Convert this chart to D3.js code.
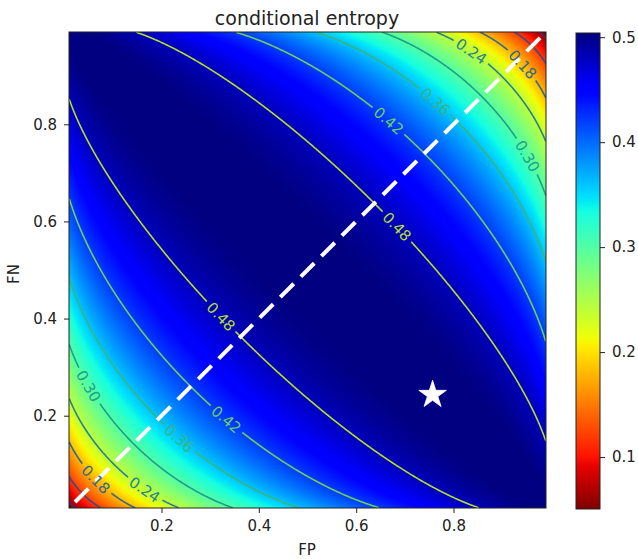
<!DOCTYPE html>
<html>
<head>
<meta charset="utf-8">
<script src="https://cdn.jsdelivr.net/npm/d3@7"></script>
<style>
  body { margin: 0; background: #fff; }
  text { font-family: "DejaVu Sans", sans-serif; }
</style>
</head>
<body>
<svg id="chart" width="638" height="559"></svg>
<script>
// ---- values ----
var fpRange = [0.01, 0.99];          // FP axis extent
var fnRange = [0.01, 0.99];          // FN axis extent
var prior = 0.5;                     // P(y = 1)
var entropyMax = 0.508;              // H(Y), the top of the field
var levels = [0.06, 0.12, 0.18, 0.24, 0.30, 0.36, 0.42, 0.48];
var levelColorMax = 0.54;            // contour colour norm upper end
var labelLevels = [0.18, 0.18, 0.24, 0.24, 0.30, 0.30, 0.36, 0.36, 0.42, 0.42, 0.48, 0.48];
var labelFP = [0.057, 0.949, 0.162, 0.840, 0.049, 0.959, 0.234, 0.768, 0.331, 0.670, 0.326, 0.682];
var labelFN = [0.061, 0.930, 0.043, 0.955, 0.261, 0.739, 0.152, 0.854, 0.189, 0.811, 0.409, 0.587];
var xTicks = [0.2, 0.4, 0.6, 0.8];
var yTicks = [0.2, 0.4, 0.6, 0.8];
var cbarTicks = [0.1, 0.2, 0.3, 0.4, 0.5];
var cbarRange = [0.0505, 0.504];
var starFP = [0.757];
var starFN = [0.243];
var diagFP = [0.01, 0.99];
var diagFN = [0.01, 0.99];

var svg = d3.select('#chart');
var pLeft = 69, pTop = 32, pRight = 546, pBottom = 508;

var x = d3.scaleLinear().domain(fpRange).range([pLeft, pRight]);
var y = d3.scaleLinear().domain(fnRange).range([pBottom, pTop]);

// jet colormap, reversed
function seg(pts, t) {
  for (var k = 1; k < pts.length; k++) {
    if (t <= pts[k][0]) {
      var a = pts[k - 1], b = pts[k];
      return a[1] + (b[1] - a[1]) * (t - a[0]) / (b[0] - a[0]);
    }
  }
  return pts[pts.length - 1][1];
}
var jetR = [[0, 0], [0.35, 0], [0.66, 1], [0.89, 1], [1, 0.5]];
var jetG = [[0, 0], [0.125, 0], [0.375, 1], [0.64, 1], [0.91, 0], [1, 0]];
var jetB = [[0, 0.5], [0.11, 1], [0.34, 1], [0.65, 0], [1, 0]];
function jetReversed(t) {
  t = 1 - Math.max(0, Math.min(1, t));
  return d3.rgb(255 * seg(jetR, t), 255 * seg(jetG, t), 255 * seg(jetB, t));
}
var color = d3.scaleSequential(jetReversed).domain(cbarRange).clamp(true);

// conditional entropy H(Y | Yhat)
function part(u, v) {
  var s = u + v, h = 0;
  if (u > 0) h -= u * Math.log2(u / s);
  if (v > 0) h -= v * Math.log2(v / s);
  return h;
}
function condEntropy(fp, fn) {
  var p = prior;
  var h = part((1 - p) * (1 - fp), p * fn) + part((1 - p) * fp, p * (1 - fn));
  return entropyMax * h;
}

var N = 400;
var field = new Float64Array(N * N);
var dxg = (fpRange[1] - fpRange[0]) / N, dyg = (fnRange[1] - fnRange[0]) / N;
for (var j = 0; j < N; j++) {
  for (var i = 0; i < N; i++) {
    field[j * N + i] = condEntropy(fpRange[0] + (i + 0.5) * dxg, fnRange[0] + (j + 0.5) * dyg);
  }
}

// heatmap image
var canvas = document.createElement('canvas');
canvas.width = N; canvas.height = N;
var ctx = canvas.getContext('2d');
var img = ctx.createImageData(N, N);
for (var r = 0; r < N; r++) {
  var jj = N - 1 - r;
  for (var i = 0; i < N; i++) {
    var c = color(field[jj * N + i]);
    var o = (r * N + i) * 4;
    img.data[o] = c.r; img.data[o + 1] = c.g; img.data[o + 2] = c.b; img.data[o + 3] = 255;
  }
}
ctx.putImageData(img, 0, 0);

var defs = svg.append('defs');
defs.append('clipPath').attr('id', 'plotclip')
  .append('rect').attr('x', pLeft).attr('y', pTop).attr('width', pRight - pLeft).attr('height', pBottom - pTop);

svg.append('image')
  .attr('x', pLeft).attr('y', pTop)
  .attr('width', pRight - pLeft).attr('height', pBottom - pTop)
  .attr('preserveAspectRatio', 'none')
  .attr('href', canvas.toDataURL());

// contours
var contours = d3.contours().size([N, N]).thresholds(levels)(field);
function gx(g) { return x(fpRange[0] + g * dxg); }
function gy(g) { return y(fnRange[0] + g * dyg); }
function onEdge(p) { return p[0] < 0.25 || p[0] > N - 0.25 || p[1] < 0.25 || p[1] > N - 0.25; }

var lineSets = contours.map(function(cn) {
  var lines = [];
  cn.coordinates.forEach(function(poly) {
    poly.forEach(function(ring) {
      var cur = [];
      for (var k = 0; k < ring.length - 1; k++) {
        var a = ring[k], b = ring[k + 1];
        if (onEdge(a) && onEdge(b)) { if (cur.length > 1) lines.push(cur); cur = []; continue; }
        if (!cur.length) cur.push([gx(a[0]), gy(a[1])]);
        cur.push([gx(b[0]), gy(b[1])]);
      }
      if (cur.length > 1) lines.push(cur);
    });
  });
  return {value: cn.value, lines: lines};
});

var mask = defs.append('mask').attr('id', 'lblmask').attr('maskUnits', 'userSpaceOnUse')
  .attr('x', 0).attr('y', 0).attr('width', 638).attr('height', 559);
mask.append('rect').attr('width', 638).attr('height', 559).attr('fill', '#fff');

function levelColor(v) { return d3.interpolateViridis(v / levelColorMax); }

var lineGen = d3.line();
svg.append('g').attr('clip-path', 'url(#plotclip)')
  .append('g').attr('mask', 'url(#lblmask)')
  .selectAll('g')
  .data(lineSets)
  .join('g')
  .each(function(d) {
    d3.select(this).selectAll('path').data(d.lines).join('path')
      .attr('d', lineGen)
      .attr('fill', 'none')
      .attr('stroke', levelColor(d.value))
      .attr('stroke-width', 1.6);
  });

// dashed diagonal
svg.append('path')
  .attr('clip-path', 'url(#plotclip)')
  .attr('d', d3.line().x(function(d, i) { return x(diagFP[i]); }).y(function(d, i) { return y(diagFN[i]); })(diagFP))
  .attr('fill', 'none')
  .attr('stroke', '#fff')
  .attr('stroke-width', 4)
  .attr('stroke-dasharray', '19,10')
  .attr('stroke-dashoffset', 20.5);

// contour labels
var labelG = svg.append('g');
labelLevels.forEach(function(lv, idx) {
  var set = lineSets.find(function(s) { return Math.abs(s.value - lv) < 1e-9; });
  if (!set) return;
  var px = x(labelFP[idx]), py = y(labelFN[idx]);
  var best = null, bd = Infinity;
  set.lines.forEach(function(ln) {
    ln.forEach(function(pt, k) {
      var dd = (pt[0] - px) * (pt[0] - px) + (pt[1] - py) * (pt[1] - py);
      if (dd < bd) { bd = dd; best = {ln: ln, k: k}; }
    });
  });
  if (!best) return;
  var ln = best.ln, k = best.k;
  var p0 = ln[Math.max(0, k - 4)], p1 = ln[Math.min(ln.length - 1, k + 4)];
  var ang = Math.atan2(p1[1] - p0[1], p1[0] - p0[0]) * 180 / Math.PI;
  if (ang > 90) ang -= 180;
  if (ang < -90) ang += 180;
  var lx = ln[k][0], ly = ln[k][1];
  var t = labelG.append('text')
    .attr('transform', 'translate(' + lx + ',' + ly + ') rotate(' + ang + ')')
    .attr('text-anchor', 'middle')
    .attr('dy', '0.36em')
    .attr('font-size', '15px')
    .attr('fill', levelColor(lv))
    .text(d3.format('.2f')(lv));
  var w = t.node().getComputedTextLength() + 8;
  mask.append('rect')
    .attr('x', -w / 2).attr('y', -7).attr('width', w).attr('height', 14)
    .attr('transform', 'translate(' + lx + ',' + ly + ') rotate(' + ang + ')')
    .attr('fill', '#000');
});

// star
svg.selectAll('.star')
  .data(starFP)
  .join('path')
  .attr('class', 'star')
  .attr('transform', function(d, i) { return 'translate(' + x(d) + ',' + y(starFN[i]) + ')'; })
  .attr('d', d3.symbol(d3.symbolStar, 236))
  .attr('fill', '#fff')
  .attr('stroke', '#fff')
  .attr('stroke-width', 0.8);

// frame
svg.append('rect')
  .attr('x', pLeft).attr('y', pTop).attr('width', pRight - pLeft).attr('height', pBottom - pTop)
  .attr('fill', 'none').attr('stroke', '#222').attr('stroke-width', 1);

// axes
var fmt = d3.format('.1f');
var xAxis = svg.append('g').attr('transform', 'translate(0,' + pBottom + ')')
  .call(d3.axisBottom(x).tickValues(xTicks).tickFormat(fmt).tickSize(5).tickPadding(7));
var yAxis = svg.append('g').attr('transform', 'translate(' + pLeft + ',0)')
  .call(d3.axisLeft(y).tickValues(yTicks).tickFormat(fmt).tickSize(5).tickPadding(7));
[xAxis, yAxis].forEach(function(a) {
  a.select('.domain').remove();
  a.selectAll('text').attr('font-size', '15px').attr('fill', '#222').style('font-family', '"DejaVu Sans", sans-serif');
  a.selectAll('line').attr('stroke', '#222');
});

// titles
svg.append('text').attr('x', 307).attr('y', 25).attr('text-anchor', 'middle')
  .attr('font-size', '19px').attr('fill', '#222').text('conditional entropy');
svg.append('text').attr('x', 307).attr('y', 555).attr('text-anchor', 'middle')
  .attr('font-size', '15px').attr('fill', '#222').text('FP');
svg.append('text').attr('transform', 'translate(19,274) rotate(-90)').attr('text-anchor', 'middle')
  .attr('font-size', '15px').attr('fill', '#222').text('FN');

// colorbar
var cbX = 576, cbW = 24, cbTop = 33, cbBottom = 509;
var cScale = d3.scaleLinear().domain(cbarRange).range([cbBottom, cbTop]);
var grad = defs.append('linearGradient').attr('id', 'cbgrad')
  .attr('x1', 0).attr('y1', 1).attr('x2', 0).attr('y2', 0);
d3.range(0, 1.0001, 0.01).forEach(function(t) {
  grad.append('stop').attr('offset', t).attr('stop-color', jetReversed(t));
});
svg.append('rect').attr('x', cbX).attr('y', cbTop).attr('width', cbW).attr('height', cbBottom - cbTop)
  .attr('fill', 'url(#cbgrad)').attr('stroke', '#222').attr('stroke-width', 1);
var cAxis = svg.append('g').attr('transform', 'translate(' + (cbX + cbW) + ',0)')
  .call(d3.axisRight(cScale).tickValues(cbarTicks).tickFormat(fmt).tickSize(5).tickPadding(7));
cAxis.select('.domain').remove();
cAxis.selectAll('text').attr('font-size', '15px').attr('fill', '#222').style('font-family', '"DejaVu Sans", sans-serif');
cAxis.selectAll('line').attr('stroke', '#222');
</script>
</body>
</html>
